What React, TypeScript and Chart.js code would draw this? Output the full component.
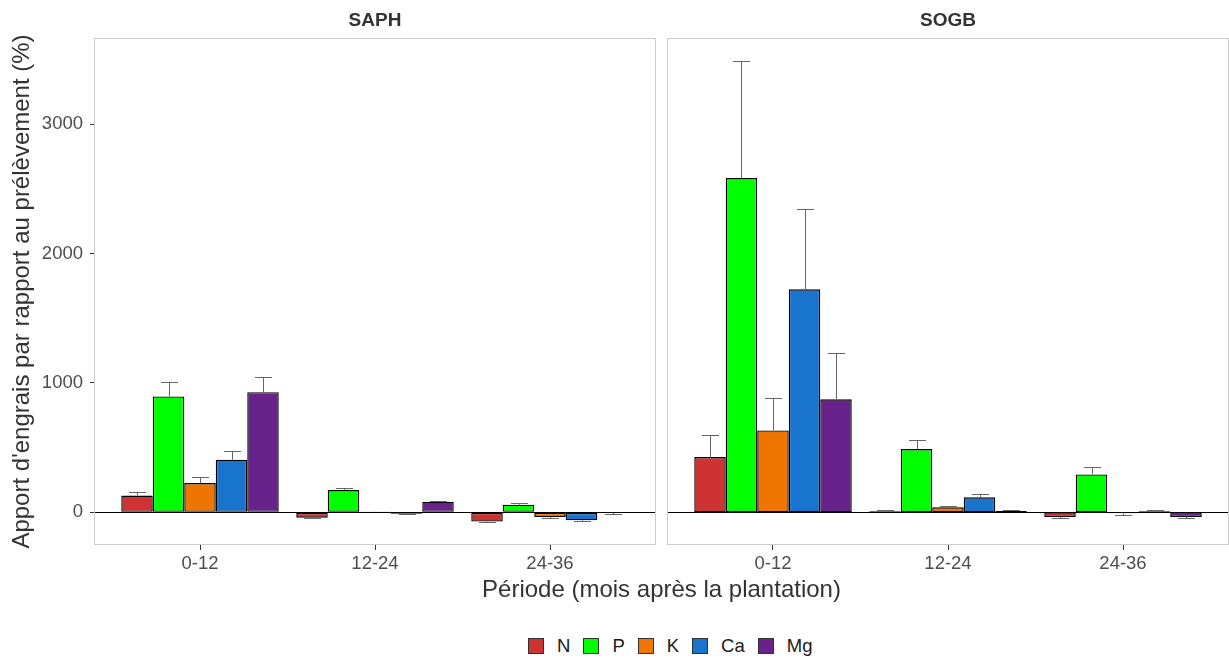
import React, { useEffect, useRef } from 'react';
import { Chart, registerables } from 'chart.js';

Chart.register(...registerables);

const FONT = "'Liberation Sans', Arial, Helvetica, sans-serif";

const categories = ['0-12', '12-24', '24-36'];
const nutrients = ['N', 'P', 'K', 'Ca', 'Mg'];
const nutrientColors = ['#CD3333', '#00FF00', '#EE7600', '#1874CD', '#68228B'];
const yTickValues = [0, 1000, 2000, 3000];
const yMin = -253;
const yMax = 3668;

// SAPH values (%) per period
const saphN = [130, -42, -72];
const saphP = [896, 172, 59];
const saphK = [226, 3, -36];
const saphCa = [407, -12, -62];
const saphMg = [929, 82, -3];
// SAPH standard errors
const saphNErr = [27, 5, 6];
const saphPErr = [108, 18, 13];
const saphKErr = [46, 3, 5];
const saphCaErr = [66, 4, 4];
const saphMgErr = [121, 7, 8];

// SOGB values (%) per period
const sogbN = [427, 8, -36];
const sogbP = [2585, 489, 293];
const sogbK = [633, 39, -8];
const sogbCa = [1725, 116, 8];
const sogbMg = [874, 10, -36];
// SOGB standard errors
const sogbNErr = [170, 10, 8];
const sogbPErr = [905, 69, 60];
const sogbKErr = [247, 12, 13];
const sogbCaErr = [620, 28, 12];
const sogbMgErr = [358, 11, 8];

type PanelProps = {
  values: number[][];
  errors: number[][];
  showY: boolean;
  left: number;
  width: number;
  padLeft: number;
  padRight: number;
};

function Panel({ values, errors, showY, left, width, padLeft, padRight }: PanelProps) {
  const ref = useRef<HTMLCanvasElement | null>(null);

  useEffect(() => {
    if (!ref.current) return;
    const errPlugin = {
      id: 'errbarsAndFrame',
      afterDatasetsDraw(chart: any) {
        const { ctx, chartArea } = chart;
        const y = chart.scales.y;
        ctx.save();
        // error bars
        ctx.strokeStyle = '#666666';
        ctx.lineWidth = 1;
        chart.data.datasets.forEach((ds: any, di: number) => {
          const meta = chart.getDatasetMeta(di);
          meta.data.forEach((bar: any, i: number) => {
            const v = ds.data[i].y;
            const e = errors[di][i];
            const end = v >= 0 ? v + e : v - e;
            const x = Math.round(bar.x) + 0.5;
            const p0 = y.getPixelForValue(v);
            const p1 = Math.round(y.getPixelForValue(end)) + 0.5;
            const half = bar.width * 0.27;
            ctx.beginPath();
            ctx.moveTo(x, p0);
            ctx.lineTo(x, p1);
            ctx.moveTo(x - half, p1);
            ctx.lineTo(x + half, p1);
            ctx.stroke();
          });
        });
        // zero line
        const y0 = Math.round(y.getPixelForValue(0)) + 0.5;
        ctx.strokeStyle = '#000000';
        ctx.beginPath();
        ctx.moveTo(chartArea.left, y0);
        ctx.lineTo(chartArea.right, y0);
        ctx.stroke();
        // panel frame
        ctx.strokeStyle = '#CCCCCC';
        ctx.strokeRect(
          Math.round(chartArea.left) - 0.5,
          Math.round(chartArea.top) + 0.5,
          Math.round(chartArea.right - chartArea.left) + 1,
          Math.round(chartArea.bottom - chartArea.top) - 1
        );
        ctx.restore();
      },
    };

    const chart = new Chart(ref.current, {
      type: 'bar',
      data: {
        datasets: nutrients.map((n, di) => ({
          label: n,
          data: categories.map((c, i) => ({ x: i + 1, y: values[di][i] })),
          backgroundColor: nutrientColors[di],
          borderColor: '#000000',
          borderWidth: 1.4,
          borderSkipped: false,
          categoryPercentage: 0.9,
          barPercentage: 1,
        })),
      },
      options: {
        animation: false,
        responsive: false,
        devicePixelRatio: 1,
        layout: { padding: { top: 38, left: padLeft, right: padRight, bottom: 0 } },
        plugins: {
          legend: { display: false },
          tooltip: { enabled: false },
          title: { display: false },
        },
        scales: {
          x: {
            type: 'linear',
            min: 0.4,
            max: 3.6,
            offset: false,
            afterBuildTicks: (s: any) => {
              s.ticks = categories.map((_, i) => ({ value: i + 1 }));
            },
            afterFit: (s: any) => {
              s.height = 55;
            },
            ticks: {
              callback: (v: any) => categories[Math.round(Number(v)) - 1] ?? '',
              color: '#4D4D4D',
              font: { size: 18.5, family: FONT },
              padding: 3,
              maxRotation: 0,
              autoSkip: false,
            },
            grid: {
              display: true,
              drawOnChartArea: false,
              drawTicks: true,
              tickLength: 5,
              tickColor: '#333333',
              offset: false,
            },
            border: { display: false },
          },
          y: {
            type: 'linear',
            display: showY,
            min: yMin,
            max: yMax,
            afterBuildTicks: (s: any) => {
              s.ticks = yTickValues.map((v) => ({ value: v }));
            },
            afterFit: (s: any) => {
              if (showY) s.width = 95;
            },
            ticks: {
              callback: (v: any) => String(v),
              color: '#4D4D4D',
              font: { size: 18.5, family: FONT },
              padding: 7,
            },
            grid: {
              display: true,
              drawOnChartArea: false,
              drawTicks: true,
              tickLength: 5,
              tickColor: '#333333',
            },
            border: { display: false },
            title: {
              display: true,
              text: "Apport d'engrais par rapport au prélèvement (%)",
              color: '#333333',
              font: { size: 24, family: FONT },
              padding: { top: 8, bottom: 0 },
            },
          },
        },
      } as any,
      plugins: [errPlugin],
    });
    return () => chart.destroy();
  }, []);

  return (
    <canvas
      ref={ref}
      width={width}
      height={600}
      style={{ position: 'absolute', left, top: 0, width, height: 600 }}
    />
  );
}

export default function App() {
  const saphValues = [saphN, saphP, saphK, saphCa, saphMg];
  const saphErrors = [saphNErr, saphPErr, saphKErr, saphCaErr, saphMgErr];
  const sogbValues = [sogbN, sogbP, sogbK, sogbCa, sogbMg];
  const sogbErrors = [sogbNErr, sogbPErr, sogbKErr, sogbCaErr, sogbMgErr];

  const stripStyle: React.CSSProperties = {
    position: 'absolute',
    top: 9,
    height: 22,
    lineHeight: '22px',
    fontSize: 19,
    fontWeight: 'bold',
    color: '#333333',
    textAlign: 'center',
  };

  return (
    <div
      style={{
        position: 'fixed',
        left: 0,
        top: 0,
        width: 1229,
        height: 660,
        background: '#FFFFFF',
        fontFamily: FONT,
        overflow: 'hidden',
      }}
    >
      <Panel values={saphValues} errors={saphErrors} showY={true} left={0} width={660} padLeft={0} padRight={5} />
      <Panel values={sogbValues} errors={sogbErrors} showY={false} left={660} width={569} padLeft={8} padRight={1} />
      <div style={{ ...stripStyle, left: 95, width: 560 }}>SAPH</div>
      <div style={{ ...stripStyle, left: 668, width: 560 }}>SOGB</div>
      <div
        style={{
          position: 'absolute',
          left: 95,
          width: 1133,
          top: 575,
          lineHeight: '28px',
          fontSize: 24,
          color: '#333333',
          textAlign: 'center',
        }}
      >
        Période (mois après la plantation)
      </div>
      <div
        style={{
          position: 'absolute',
          left: 528,
          top: 636,
          height: 20,
          display: 'flex',
          alignItems: 'center',
        }}
      >
        {nutrients.map((n, i) => (
          <div key={n} style={{ display: 'flex', alignItems: 'center', marginRight: 13 }}>
            <div
              style={{
                width: 14,
                height: 14,
                background: nutrientColors[i],
                border: '1px solid #333333',
              }}
            />
            <span style={{ marginLeft: 13, fontSize: 18.5, color: '#1A1A1A' }}>{n}</span>
          </div>
        ))}
      </div>
    </div>
  );
}
